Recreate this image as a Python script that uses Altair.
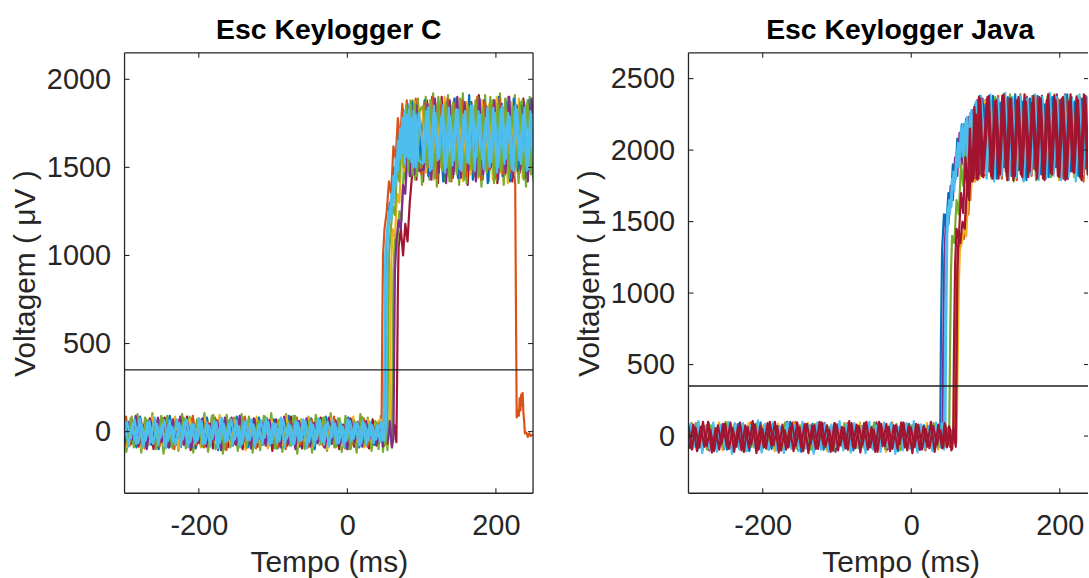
import altair as alt
import pandas as pd

FONT = "Liberation Sans"
AX = "#262626"

X_TICKS = [-200, 0, 200]
C_Y_TICKS = [0, 500, 1000, 1500, 2000]
J_Y_TICKS = [0, 500, 1000, 1500, 2000, 2500]
THRESHOLD = 350
C_X_DOMAIN = [-300, 250]
J_X_DOMAIN = [-300, 238]
C_Y_DOMAIN = [-350, 2150]
J_Y_DOMAIN = [-400, 2680]

MATLAB = {
    "blue": "#0072BD", "orange": "#D95319", "yellow": "#EDB120", "purple": "#7E2F8E",
    "green": "#77AC30", "cyan": "#4DBEEE", "darkred": "#A2142F",
}

# ---------------- Esc Keylogger C ----------------
C_DARKRED_BASE = [-95, 40, -70, 65, -85, 30, -60, 75, -100, 55,
                  -40, 80, -90, 20, -75, 60, -65, 85, -105, 45,
                  -50, 70, -80, 35, -95, 65, -55, 50, -90, 80,
                  -70, 25, -100, 60, -45, 75, -85, 40, -65, 55,
                  -110, 70, -60, 30, -80, 85, -50, 45, -95, 60,
                  -75, 35, -55, 80, -90, 50, -70, 65, -100, 40,
                  -60, 75, -85, 55, -45, 30, -95, 70, -80]
C_DARKRED_RISE = [[45, 60], [50, -80], [55, 50], [60, -70], [63, 40], [66, -60], [67, 300], [68, 800],
                  [69, 1050], [72, 1150], [75, 1000], [78, 1180], [81, 1080], [84, 1300], [87, 1450],
                  [90, 1700], [93, 1430], [96, 1820]]
C_DARKRED_PLAT = [1420, 1880, 1460, 1850, 1410, 1900, 1480, 1860, 1440, 1890,
                  1470, 1840, 1400, 1870, 1450, 1910, 1430, 1850, 1490, 1880,
                  1410, 1860, 1460, 1900, 1420, 1830, 1470, 1890, 1440, 1850,
                  1480]

C_GREEN2_BASE = [95, -115, 70, -90, 100, -120, 80, -75, 105, -100,
                 65, -125, 90, -85, 75, -110, 100, -95, 85, -120,
                 70, -80, 105, -115, 90, -100, 60, -125, 95, -90,
                 80, -110, 100, -70, 85, -120, 75, -105, 90, -85,
                 105, -95, 65, -115, 100, -80, 90, -125, 70, -100,
                 85, -120, 95, -75, 80, -110, 105, -90, 75, -115,
                 90, -100, 70, -120, 100, -85, 80, -110, 60]
C_GREEN2_RISE = [[42, -100], [45, 90], [48, -115], [51, 80], [54, -105], [57, 70], [60, -90], [61, 350],
                 [62, 900], [64, 1100], [67, 1050], [70, 1250], [73, 1200], [76, 1500], [79, 1420],
                 [82, 1750], [85, 1450], [88, 1880], [91, 1430], [95, 1890]]
C_GREEN2_PLAT = [1400, 1900, 1430, 1920, 1390, 1880, 1420, 1910, 1440, 1890,
                 1400, 1920, 1410, 1870, 1450, 1900, 1390, 1910, 1420, 1880,
                 1430, 1920, 1400, 1890, 1440, 1910, 1410, 1880, 1390, 1900,
                 1420]

C_BLUE_BASE = [70, -60, 45, -90, 85, -35, 60, -75, 30, -100,
               55, -50, 90, -70, 40, -85, 65, -30, 75, -95,
               35, -65, 80, -55, 50, -105, 70, -40, 60, -80,
               85, -60, 25, -90, 65, -45, 80, -75, 40, -55,
               70, -95, 50, -35, 90, -70, 30, -85, 60, -50,
               75, -100, 45, -65, 85, -40, 55, -80, 35, -60,
               80, -70, 50, -90, 65, -45, 40, -75, 20]
C_BLUE_RISE = [[45, 55], [48, -60], [50, 30], [51, 500], [52, 1000], [54, 1120], [57, 1300], [60, 1250],
               [63, 1500], [66, 1450], [69, 1700], [72, 1600], [75, 1830], [78, 1550], [81, 1860],
               [84, 1500], [87, 1870], [90, 1470], [93, 1850], [96, 1520]]
C_BLUE_PLAT = [1880, 1450, 1900, 1480, 1840, 1420, 1870, 1500, 1890, 1440,
               1850, 1470, 1910, 1430, 1860, 1490, 1880, 1410, 1840, 1460,
               1900, 1450, 1870, 1420, 1890, 1480, 1850, 1440, 1880, 1470,
               1860]

C_ORANGE_BASE = [-50, 85, -80, 30, -65, 70, -95, 50, -40, 60,
                 -85, 75, -55, 35, -100, 65, -70, 45, -60, 90,
                 -75, 25, -90, 55, -45, 80, -65, 40, -105, 70,
                 -35, 60, -80, 85, -55, 30, -95, 50, -70, 75,
                 -60, 40, -85, 65, -100, 55, -45, 80, -75, 35,
                 -90, 70, -50, 60, -80, 45, -65, 85, -55, 30,
                 -95, 65, -70, 50, -40, 75, -85, 40, -30]
C_ORANGE_RISE = [[44, 60], [46, -20], [47, 600], [48, 1000], [50, 1150], [53, 1250], [56, 1420],
                 [59, 1350], [62, 1620], [65, 1550], [68, 1780], [71, 1650], [74, 1860], [77, 1580],
                 [80, 1880], [83, 1520], [86, 1850], [89, 1480], [92, 1890], [96, 1500]]
C_ORANGE_PLAT = [1460, 1870, 1500, 1900, 1440, 1850, 1480, 1890, 1420, 1860,
                 1510, 1880, 1450, 1840, 1470, 1900, 1430, 1870, 1490, 1850,
                 1440, 1890, 1460, 1830, 1480, 1450]
C_ORANGE_TAIL = [[226, 1400], [227, 700], [228, 80], [230, 120], [231, 90], [232, 190], [233, 120],
                 [234, 210], [235, 150], [236, 220], [237, 110], [238, 60], [239, -10], [241, -5],
                 [243, -30], [245, -10], [247, -25], [250, -15]]

C_YELLOW_BASE = [45, -85, 75, -40, 60, -95, 35, -70, 90, -55,
                 65, -80, 30, -60, 85, -100, 50, -45, 70, -75,
                 40, -90, 80, -50, 55, -65, 95, -85, 35, -70,
                 60, -40, 75, -105, 45, -55, 85, -80, 30, -95,
                 70, -60, 50, -75, 90, -35, 40, -85, 65, -50,
                 80, -90, 35, -70, 55, -100, 75, -45, 60, -80,
                 40, -65, 85, -55, 30, -90, 70, -60, 45]
C_YELLOW_RISE = [[45, 70], [48, -60], [51, 55], [54, -80], [57, 30], [58, 500], [59, 950], [61, 1150],
                 [64, 1100], [67, 1350], [70, 1300], [73, 1600], [76, 1480], [79, 1780], [82, 1550],
                 [85, 1850], [88, 1480], [91, 1870], [94, 1500], [97, 1840]]
C_YELLOW_PLAT = [1840, 1470, 1880, 1430, 1860, 1500, 1900, 1450, 1850, 1480,
                 1890, 1420, 1870, 1460, 1830, 1440, 1880, 1490, 1860, 1430,
                 1900, 1470, 1840, 1410, 1870, 1460, 1890, 1440, 1850, 1480,
                 1870]

C_PURPLE_BASE = [-80, 55, -45, 90, -70, 35, -100, 65, -55, 80,
                 -60, 40, -90, 70, -35, 85, -75, 50, -95, 30,
                 -65, 75, -85, 45, -50, 60, -105, 80, -40, 55,
                 -75, 90, -60, 35, -95, 70, -45, 50, -80, 65,
                 -55, 30, -90, 85, -70, 45, -100, 60, -35, 75,
                 -85, 50, -65, 40, -90, 80, -50, 55, -75, 35,
                 -100, 70, -60, 45, -85, 60, -40, 30, -70]
C_PURPLE_RISE = [[45, 50], [48, -85], [51, 40], [54, -70], [57, 60], [60, -90], [62, -40], [63, 400],
                 [64, 900], [66, 1080], [69, 1200], [72, 1150], [75, 1400], [78, 1350], [81, 1620],
                 [84, 1450], [87, 1800], [90, 1460], [93, 1850], [96, 1480]]
C_PURPLE_PLAT = [1490, 1860, 1430, 1890, 1470, 1850, 1410, 1880, 1460, 1900,
                 1440, 1870, 1480, 1850, 1420, 1890, 1460, 1840, 1500, 1880,
                 1430, 1860, 1470, 1900, 1440, 1850, 1490, 1870, 1420, 1890,
                 1450]

C_GREEN_BASE = [60, -70, 85, -50, 40, -90, 70, -35, 55, -80,
                90, -60, 45, -95, 65, -40, 80, -75, 30, -55,
                75, -85, 50, -65, 95, -45, 35, -100, 60, -70,
                40, -55, 80, -90, 65, -30, 55, -75, 85, -60,
                35, -95, 70, -50, 45, -80, 90, -65, 50, -40,
                65, -85, 30, -70, 80, -55, 45, -90, 75, -35,
                55, -100, 60, -45, 85, -75, 40, -60, 50]
C_GREEN_RISE = [[45, -60], [48, 50], [51, -75], [54, 30], [55, 500], [56, 1000], [58, 1120], [61, 1280],
                [64, 1230], [67, 1500], [70, 1420], [73, 1720], [76, 1500], [79, 1850], [82, 1480],
                [85, 1880], [88, 1460], [91, 1860], [94, 1450], [97, 1820]]
C_GREEN_PLAT = [1850, 1500, 1880, 1440, 1900, 1480, 1860, 1420, 1870, 1460,
                1890, 1430, 1850, 1490, 1880, 1450, 1840, 1470, 1900, 1410,
                1860, 1480, 1890, 1440, 1850, 1500, 1870, 1430, 1880, 1460,
                1840]

C_CYAN_BASE = [-60, 55, -40, 70, -65, 35, -50, 60, -70, 45,
               -35, 65, -55, 30, -75, 50, -45, 70, -60, 40,
               -50, 60, -70, 35, -40, 55, -65, 45, -55, 70,
               -45, 30, -70, 60, -50, 40, -60, 65, -35, 55,
               -65, 45, -55, 70, -40, 35, -70, 50, -50, 60,
               -60, 40, -45, 65, -75, 55, -35, 45, -65, 30,
               -55, 60, -40, 50, -70, 45, -50, 35, -45]
C_CYAN_RISE = [[45, 55], [48, -50], [49, 20], [50, 500], [51, 1000], [53, 1120], [56, 1250], [59, 1200],
               [62, 1450], [65, 1400], [68, 1650], [71, 1550], [74, 1780], [77, 1520], [80, 1800],
               [83, 1550], [86, 1780], [89, 1500], [92, 1800], [96, 1540]]
C_CYAN_PLAT = [1520, 1820, 1480, 1850, 1540, 1790, 1470, 1840, 1510, 1830,
               1490, 1800, 1530, 1850, 1480, 1820, 1550, 1780, 1500, 1840,
               1470, 1830, 1520, 1810, 1490, 1850, 1540, 1800, 1480, 1820,
               1510]

C_CYAN2_BASE = [60, -85, 45, -70, 75, -90, 50, -60, 80, -75,
                40, -95, 65, -55, 70, -80, 55, -90, 45, -65,
                75, -70, 50, -85, 60, -95, 80, -60, 45, -75,
                65, -90, 55, -50, 70, -85, 40, -70, 75, -80,
                50, -65, 80, -90, 45, -75, 60, -55, 70, -95,
                55, -80, 75, -60, 40, -85, 65, -70, 50, -90,
                70, -55, 45, -80, 60, -75, 55, -65, 40]
C_CYAN2_RISE = [[44, -60], [47, 45], [50, -50], [52, 30], [53, 600], [54, 1050], [56, 1180], [59, 1350],
                [62, 1300], [65, 1550], [68, 1480], [71, 1720], [74, 1580], [77, 1820], [80, 1560],
                [83, 1830], [86, 1530], [89, 1820], [92, 1500], [96, 1810]]
C_CYAN2_PLAT = [1530, 1840, 1490, 1810, 1550, 1850, 1500, 1790, 1540, 1830,
                1480, 1820, 1520, 1850, 1560, 1800, 1490, 1840, 1530, 1810,
                1500, 1850, 1550, 1790, 1480, 1830, 1520, 1840, 1490, 1800,
                1540]

# ---------------- Esc Keylogger Java ----------------
J_BLUE_BASE = [80, -75, 50, -100, 65, -40, 90, -85, 35, -60,
               70, -95, 45, -55, 85, -70, 30, -105, 60, -45,
               95, -65, 40, -90, 75, -50, 55, -80, 100, -35,
               45, -110, 70, -60, 85, -75, 35, -95, 60, -50,
               90, -40, 55, -85, 75, -100, 40, -65, 80, -55,
               65, -90, 95, -45, 50, -80, 70, -105, 35, -70,
               85, -60, 45, -95, 75, -40, 60, -85, 50]
J_BLUE_RISE = [[39, 40], [40, 700], [41.5, 1300], [44, 1550], [47, 1450], [50, 1700], [53, 1600],
               [56, 1900], [59, 1780], [62, 2080], [65, 1950], [68, 2180], [71, 2000], [74, 2220],
               [77, 1950], [80, 2260], [83, 1900], [86, 2320], [89, 1850], [92, 2380], [96, 1860]]
J_BLUE_PLAT = [2350, 1850, 2380, 1800, 2330, 1880, 2370, 1820, 2390, 1860,
               2340, 1790, 2360, 1870, 2380, 1830, 2320, 1810, 2370, 1880,
               2350, 1800, 2390, 1850, 2340, 1820, 2360, 1870, 2330, 1790,
               2370]

J_ORANGE_BASE = [-70, 90, -55, 40, -100, 75, -35, 60, -85, 50,
                 -60, 85, -95, 35, -45, 70, -80, 95, -65, 45,
                 -105, 55, -40, 80, -75, 30, -90, 65, -50, 100,
                 -85, 40, -60, 75, -110, 50, -45, 85, -70, 35,
                 -95, 60, -55, 90, -80, 45, -40, 70, -100, 55,
                 -65, 80, -90, 35, -50, 95, -75, 60, -45, 85,
                 -85, 40, -70, 65, -100, 50, -55, 75, -60]
J_ORANGE_RISE = [[43, 70], [46, -60], [49, 55], [52, -75], [55, 40], [58, -50], [59.5, 400], [61, 1000],
                 [62.5, 1330], [65, 1300], [68, 1420], [71, 1380], [74, 1600], [77, 1550], [80, 1900],
                 [83, 1780], [86, 2150], [89, 1790], [92, 2300], [96, 1820]]
J_ORANGE_PLAT = [1830, 2340, 1870, 2380, 1800, 2360, 1850, 2320, 1790, 2390,
                 1860, 2350, 1820, 2370, 1880, 2330, 1810, 2380, 1840, 2360,
                 1800, 2390, 1860, 2340, 1830, 2370, 1780, 2350, 1870, 2380,
                 1820]

J_YELLOW_BASE = [55, -90, 85, -45, 70, -80, 40, -65, 95, -100,
                 60, -50, 80, -75, 35, -95, 90, -55, 65, -40,
                 75, -85, 50, -105, 85, -60, 45, -70, 100, -90,
                 40, -55, 90, -80, 60, -45, 75, -100, 50, -65,
                 85, -70, 35, -95, 65, -50, 95, -85, 45, -75,
                 70, -40, 55, -110, 80, -60, 40, -90, 85, -55,
                 65, -80, 50, -70, 90, -45, 60, -95, 40]
J_YELLOW_RISE = [[43, -55], [46, 80], [49, -70], [52, 50], [55, -85], [58, 60], [61, -40], [62.5, 500],
                 [64, 1050], [65.5, 1300], [68, 1350], [71, 1450], [74, 1400], [77, 1700], [80, 1650],
                 [83, 2000], [86, 1780], [89, 2250], [92, 1800], [96, 2320]]
J_YELLOW_PLAT = [2360, 1810, 2330, 1870, 2390, 1790, 2350, 1840, 2370, 1820,
                 2380, 1860, 2340, 1800, 2360, 1880, 2390, 1830, 2350, 1790,
                 2370, 1850, 2330, 1810, 2380, 1870, 2340, 1800, 2360, 1840,
                 2390]

J_PURPLE_BASE = [-85, 65, -50, 95, -70, 40, -100, 80, -60, 55,
                 -90, 35, -75, 85, -45, 70, -105, 50, -65, 90,
                 -55, 45, -95, 75, -80, 60, -40, 100, -70, 35,
                 -100, 80, -50, 65, -85, 45, -60, 90, -75, 40,
                 -110, 70, -45, 55, -90, 85, -65, 35, -80, 60,
                 -50, 95, -70, 40, -95, 75, -55, 50, -85, 65,
                 -45, 80, -100, 55, -60, 70, -80, 45, -40]
J_PURPLE_RISE = [[42, -30], [43, 600], [44.5, 1250], [47, 1550], [50, 1480], [53, 1750], [56, 1650],
                 [59, 1950], [62, 1820], [65, 2120], [68, 1900], [71, 2180], [74, 1950], [77, 2230],
                 [80, 1880], [83, 2280], [86, 1850], [89, 2350], [92, 1830], [96, 2360]]
J_PURPLE_PLAT = [1870, 2380, 1820, 2350, 1860, 2390, 1800, 2340, 1880, 2360,
                 1790, 2370, 1850, 2330, 1810, 2380, 1870, 2350, 1830, 2390,
                 1860, 2340, 1800, 2370, 1840, 2360, 1880, 2330, 1810, 2380,
                 1850]

J_CYAN2_BASE = [-100, 85, -75, 105, -120, 70, -90, 95, -110, 80,
                -85, 100, -125, 65, -95, 90, -105, 75, -80, 110,
                -115, 85, -70, 95, -100, 60, -120, 90, -90, 75,
                -105, 100, -80, 70, -125, 95, -95, 85, -110, 65,
                -75, 105, -100, 80, -115, 90, -85, 70, -120, 100,
                -95, 75, -110, 95, -80, 85, -125, 65, -100, 90,
                -85, 105, -115, 80, -90, 70, -105, 95, -80]
J_CYAN2_RISE = [[41, 90], [44, -95], [46, 60], [47, 700], [48.5, 1400], [51, 1650], [54, 1600],
                [57, 1850], [60, 1800], [63, 2050], [66, 1950], [69, 2180], [72, 1980], [75, 2230],
                [78, 1920], [81, 2280], [84, 1880], [87, 2340], [90, 1850], [94, 2380]]
J_CYAN2_PLAT = [1800, 2390, 1780, 2360, 1820, 2400, 1790, 2370, 1810, 2380,
                1780, 2360, 1830, 2390, 1790, 2370, 1800, 2400, 1820, 2350,
                1790, 2380, 1810, 2360, 1780, 2390, 1830, 2370, 1800, 2360,
                1790]

J_GREEN_BASE = [65, -55, 90, -80, 45, -95, 75, -40, 60, -70,
                100, -85, 50, -60, 70, -110, 40, -75, 85, -45,
                55, -90, 80, -65, 35, -100, 95, -50, 60, -85,
                75, -40, 45, -95, 85, -70, 55, -80, 65, -105,
                40, -60, 90, -50, 70, -85, 50, -75, 80, -45,
                95, -65, 35, -90, 60, -55, 85, -100, 45, -70,
                75, -50, 55, -85, 40, -65, 90, -75, 30]
J_GREEN_RISE = [[43, 60], [46, -70], [49, 45], [51, -40], [52, 500], [53.5, 1150], [55, 1400], [58, 1350],
                [61, 1650], [64, 1550], [67, 1900], [70, 1750], [73, 2100], [76, 1850], [79, 2200],
                [82, 1820], [85, 2300], [88, 1800], [91, 2330], [95, 1850]]
J_GREEN_PLAT = [2340, 1800, 2370, 1860, 2330, 1820, 2390, 1780, 2350, 1870,
                2360, 1830, 2380, 1790, 2340, 1850, 2370, 1810, 2390, 1860,
                2330, 1820, 2360, 1880, 2380, 1800, 2350, 1840, 2370, 1790,
                2340]

J_CYAN_BASE = [-60, 70, -45, 85, -80, 50, -65, 40, -90, 75,
               -50, 60, -75, 90, -40, 55, -85, 65, -55, 45,
               -70, 80, -95, 35, -60, 70, -45, 85, -80, 50,
               -65, 40, -90, 75, -55, 60, -70, 45, -85, 80,
               -40, 65, -75, 50, -95, 85, -60, 35, -70, 55,
               -85, 70, -50, 45, -65, 90, -80, 60, -45, 75,
               -90, 50, -55, 80, -70, 40, -60, 65, -35]
J_CYAN_RISE = [[43, 50], [44.5, -20], [45.5, 700], [47, 1350], [49, 1600], [52, 1550], [55, 1800],
               [58, 1720], [61, 2000], [64, 1880], [67, 2150], [70, 1950], [73, 2200], [76, 1920],
               [79, 2250], [82, 1900], [85, 2300], [88, 1880], [91, 2360], [95, 1900]]
J_CYAN_PLAT = [1880, 2320, 1850, 2360, 1900, 2340, 1860, 2370, 1890, 2330,
               1840, 2350, 1900, 2310, 1870, 2360, 1850, 2340, 1890, 2370,
               1860, 2330, 1880, 2350, 1840, 2360, 1900, 2320, 1870, 2340,
               1880]

J_DARKRED_BASE = [90, -95, 60, -80, 100, -70, 45, -105, 75, -55,
                  85, -90, 55, -75, 95, -110, 65, -60, 80, -95,
                  50, -85, 100, -65, 70, -100, 40, -80, 90, -70,
                  60, -105, 85, -55, 75, -90, 95, -75, 45, -100,
                  80, -65, 55, -95, 90, -85, 70, -60, 100, -80,
                  45, -110, 85, -70, 65, -90, 75, -55, 95, -100,
                  60, -75, 80, -95, 50, -85, 70, -60, 40]
J_DARKRED_RISE = [[43, -80], [46, 75], [49, -65], [52, 50], [55, -90], [56.5, 30], [57.5, 600], [59, 1200],
                  [61, 1450], [64, 1380], [67, 1700], [70, 1560], [73, 1950], [76, 1700], [79, 2150],
                  [82, 1780], [85, 2300], [88, 1800], [91, 2370], [95, 1820]]
J_DARKRED_PLAT = [2370, 1820, 2340, 1800, 2380, 1850, 2360, 1790, 2350, 1830,
                  2390, 1810, 2330, 1860, 2370, 1800, 2350, 1840, 2380, 1820,
                  2360, 1790, 2340, 1850, 2370, 1810, 2390, 1830, 2350, 1800,
                  2360]

J_DARKRED2_BASE = [-90, 80, -105, 65, -75, 100, -115, 55, -95, 85,
                   -70, 95, -110, 60, -100, 75, -85, 105, -120, 70,
                   -80, 90, -65, 100, -115, 80, -95, 60, -105, 95,
                   -75, 85, -120, 70, -90, 100, -60, 75, -110, 90,
                   -100, 65, -85, 105, -75, 80, -115, 90, -95, 60,
                   -110, 100, -70, 85, -105, 75, -90, 95, -80, 70,
                   -120, 85, -95, 65, -75, 100, -110, 80, -85]
J_DARKRED2_RISE = [[45, 90], [48, -80], [51, 70], [54, -100], [57, 60], [60, -75], [61, 500], [62, 1100],
                   [63.5, 1380], [66, 1350], [69, 1500], [72, 1450], [75, 1750], [78, 1650], [81, 2000],
                   [84, 1800], [87, 2250], [90, 1800], [93, 2360], [97, 1810]]
J_DARKRED2_PLAT = [2380, 1800, 2350, 1830, 2390, 1790, 2360, 1820, 2370, 1810,
                   2340, 1850, 2380, 1800, 2360, 1790, 2390, 1830, 2350, 1810,
                   2370, 1800, 2390, 1840, 2350, 1790, 2380, 1820, 2360, 1800,
                   2370]

# (colour, grid phase in ms, baseline, rise, plateau, tail) in drawing order
C_TRACES = [
    ("darkred", 2, C_DARKRED_BASE, C_DARKRED_RISE, C_DARKRED_PLAT, []),
    ("green", 0.5, C_GREEN2_BASE, C_GREEN2_RISE, C_GREEN2_PLAT, []),
    ("blue", 4, C_BLUE_BASE, C_BLUE_RISE, C_BLUE_PLAT, []),
    ("orange", 0, C_ORANGE_BASE, C_ORANGE_RISE, C_ORANGE_PLAT, C_ORANGE_TAIL),
    ("yellow", 1, C_YELLOW_BASE, C_YELLOW_RISE, C_YELLOW_PLAT, []),
    ("purple", 3, C_PURPLE_BASE, C_PURPLE_RISE, C_PURPLE_PLAT, []),
    ("green", 2.5, C_GREEN_BASE, C_GREEN_RISE, C_GREEN_PLAT, []),
    ("cyan", 1.5, C_CYAN_BASE, C_CYAN_RISE, C_CYAN_PLAT, []),
    ("cyan", 3.5, C_CYAN2_BASE, C_CYAN2_RISE, C_CYAN2_PLAT, []),
]
J_TRACES = [
    ("blue", 0, J_BLUE_BASE, J_BLUE_RISE, J_BLUE_PLAT, []),
    ("orange", 2, J_ORANGE_BASE, J_ORANGE_RISE, J_ORANGE_PLAT, []),
    ("yellow", 4, J_YELLOW_BASE, J_YELLOW_RISE, J_YELLOW_PLAT, []),
    ("purple", 1, J_PURPLE_BASE, J_PURPLE_RISE, J_PURPLE_PLAT, []),
    ("cyan", 1.5, J_CYAN2_BASE, J_CYAN2_RISE, J_CYAN2_PLAT, []),
    ("green", 3, J_GREEN_BASE, J_GREEN_RISE, J_GREEN_PLAT, []),
    ("cyan", 0.5, J_CYAN_BASE, J_CYAN_RISE, J_CYAN_PLAT, []),
    ("darkred", 2.5, J_DARKRED_BASE, J_DARKRED_RISE, J_DARKRED_PLAT, []),
    ("darkred", 4.5, J_DARKRED2_BASE, J_DARKRED2_RISE, J_DARKRED2_PLAT, []),
]


def trace_df(phase, base, rise, plat, tail):
    t, v = [], []
    for i, val in enumerate(base):
        t.append(-303 + phase + 5 * i)
        v.append(val)
    for tt, val in rise:
        t.append(tt)
        v.append(val)
    for i, val in enumerate(plat):
        t.append(100 + phase + 5 * i)
        v.append(val)
    for tt, val in tail:
        t.append(tt)
        v.append(val)
    return pd.DataFrame({"t": t, "v": v, "seq": list(range(len(t)))})


def panel(title, traces, xdom, ydom, yticks, W, H, full_box, title_dx, xtitle_x):
    xs = alt.Scale(domain=xdom, nice=False, zero=False)
    ys = alt.Scale(domain=ydom, nice=False, zero=False)
    xkw = dict(values=X_TICKS, title="Tempo (ms)", labelExpr="'' + datum.value",
               labelPadding=18, titlePadding=8, grid=False, ticks=False, domain=False)
    if xtitle_x is not None:
        xkw["titleX"] = xtitle_x
    xaxis = alt.Axis(**xkw)
    yaxis = alt.Axis(values=yticks, title="Voltagem ( μV )", labelExpr="'' + datum.value",
                     labelPadding=14, titlePadding=6, grid=False, ticks=False, domain=False)
    X = lambda f: alt.X(f, scale=xs, axis=xaxis)
    Y = lambda f: alt.Y(f, scale=ys, axis=yaxis)

    layers = []
    for name, phase, base, rise, plat, tail in traces:
        df = trace_df(phase, base, rise, plat, tail)
        layers.append(
            alt.Chart(df).mark_line(color=MATLAB[name], strokeWidth=2.2, clip=True,
                                    strokeJoin="round").encode(
                x=X("t:Q"), y=Y("v:Q"), order="seq:Q")
        )
    layers.append(
        alt.Chart(pd.DataFrame({"v": [THRESHOLD]})).mark_rule(color="#1e1e1e", strokeWidth=1.3)
        .encode(y=Y("v:Q"))
    )
    ytk = pd.DataFrame({"v": yticks})
    xtk = pd.DataFrame({"t": X_TICKS})
    one = pd.DataFrame({"a": [0]})
    layers.append(alt.Chart(ytk).mark_rule(color=AX, strokeWidth=1.1)
                  .encode(y=Y("v:Q"), x=alt.value(0), x2=alt.value(5)))
    rt = 5 if full_box else 4
    layers.append(alt.Chart(ytk).mark_rule(color=AX, strokeWidth=1.1)
                  .encode(y=Y("v:Q"), x=alt.value(W - rt), x2=alt.value(W)))
    layers.append(alt.Chart(xtk).mark_rule(color=AX, strokeWidth=1.1)
                  .encode(x=X("t:Q"), y=alt.value(H - 5), y2=alt.value(H)))
    layers.append(alt.Chart(xtk).mark_rule(color=AX, strokeWidth=1.1)
                  .encode(x=X("t:Q"), y=alt.value(0), y2=alt.value(5)))
    bw = 1.3
    layers.append(alt.Chart(one).mark_rule(color=AX, strokeWidth=bw)
                  .encode(x=alt.value(0), x2=alt.value(W), y=alt.value(0)))
    layers.append(alt.Chart(one).mark_rule(color=AX, strokeWidth=bw)
                  .encode(x=alt.value(0), x2=alt.value(W), y=alt.value(H)))
    layers.append(alt.Chart(one).mark_rule(color=AX, strokeWidth=bw)
                  .encode(x=alt.value(0), y=alt.value(0), y2=alt.value(H)))
    if full_box:
        layers.append(alt.Chart(one).mark_rule(color=AX, strokeWidth=bw)
                      .encode(x=alt.value(W), y=alt.value(0), y2=alt.value(H)))

    return alt.layer(*layers).properties(
        width=W, height=H, title=alt.TitleParams(title, dx=title_dx)
    )


left = panel("Esc Keylogger C", C_TRACES, C_X_DOMAIN, C_Y_DOMAIN, C_Y_TICKS,
             410, 442, True, 0, None)
right = panel("Esc Keylogger Java", J_TRACES, J_X_DOMAIN, J_Y_DOMAIN, J_Y_TICKS,
              401, 442, False, 12, 213)

chart = (
    alt.hconcat(left, right, spacing=40)
    .properties(padding={"left": 10, "top": 14, "right": 0, "bottom": 0})
    .configure_view(stroke=None)
    .configure_axis(
        grid=False, ticks=False, domain=False,
        labelFont=FONT, labelFontSize=29, labelColor=AX,
        titleFont=FONT, titleFontSize=30, titleColor=AX, titleFontWeight="normal",
    )
    .configure_title(font=FONT, fontSize=28.5, fontWeight="bold", color="#000000",
                     anchor="middle", frame="group", offset=8)
)

chart.save("out.html", embed_options={"renderer": "svg", "actions": False})
